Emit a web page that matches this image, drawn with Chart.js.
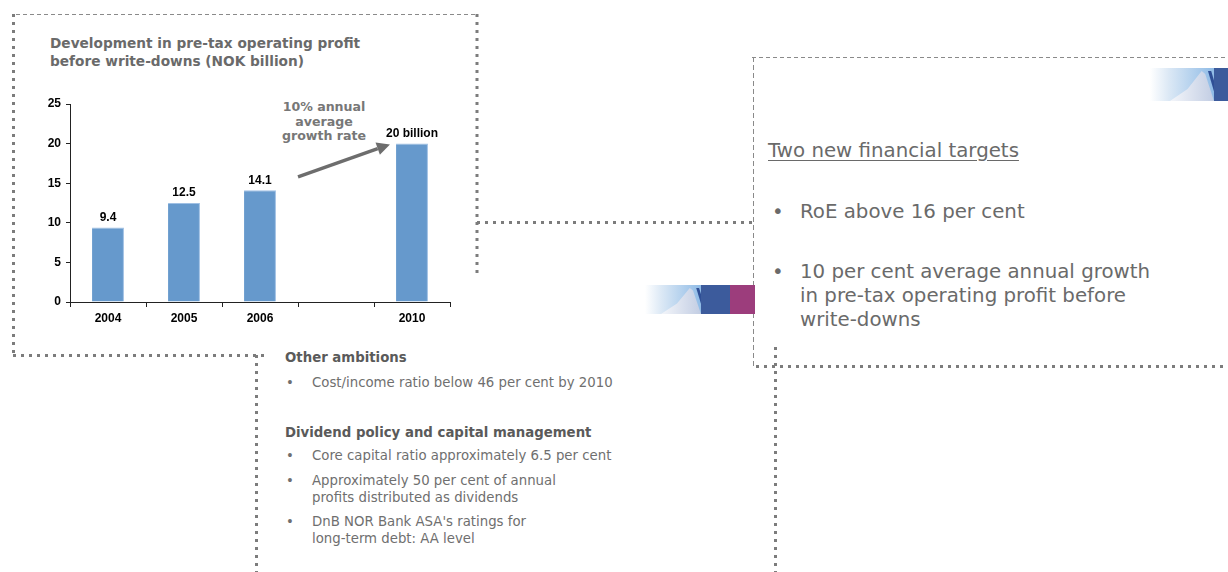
<!DOCTYPE html>
<html>
<head>
<meta charset="utf-8">
<script src="https://cdn.jsdelivr.net/npm/chart.js@4.4.1/dist/chart.umd.min.js"></script>
<style>
  html, body { margin: 0; padding: 0; background: #fff; }
  body { width: 1228px; height: 572px; position: relative; overflow: hidden; font-family: "DejaVu Sans", Verdana, sans-serif; }
  .abs { position: absolute; white-space: nowrap; }
  #frame { position: absolute; left: 0; top: 0; }
  #chartBox { position: absolute; left: 20px; top: 90px; width: 440px; height: 250px; }
  .title { left: 50px; top: 34px; font-size: 13.7px; font-weight: bold; color: #6a6a6a; line-height: 18px; }
  .note { font-size: 12.6px; font-weight: bold; color: #777; text-align: center; line-height: 14.5px; }
  .mid { font-size: 13.3px; color: #6f6f6f; }
  .mid b { color: #5a5a5a; }
  .big { font-size: 19.8px; color: #6a6a6a; }
  .logo { position: absolute; overflow: hidden; }
  .sky { position: absolute; top: 0; bottom: 0; background: linear-gradient(90deg, #fff 0%, #dbe8f5 30%, #8fbbe6 100%); }
  .peak { position: absolute; background: linear-gradient(90deg, #f4f6fa, #c2cde3); clip-path: polygon(0 100%, 40% 60%, 72% 0, 80% 10%, 100% 100%); }
  .ridge { position: absolute; background: #2f4f96; clip-path: polygon(70% 0, 78% 0, 100% 100%, 92% 100%); }
</style>
</head>
<body>

<svg id="frame" width="1228" height="572">
  <g fill="none" stroke="#8a8a8a">
    <!-- thin dashed edges -->
    <line x1="16" y1="14.5" x2="477" y2="14.5" stroke-width="1" stroke-dasharray="4 3"/>
    <line x1="752" y1="57.5" x2="1228" y2="57.5" stroke-width="1" stroke-dasharray="4 3"/>
    <line x1="753.5" y1="57" x2="753.5" y2="367" stroke-width="1" stroke-dasharray="5 3"/>
    <!-- heavy dotted edges -->
    <g stroke-width="3" stroke-dasharray="3 5" stroke="#7c7c7c">
      <line x1="13.5" y1="14" x2="13.5" y2="356"/>
      <line x1="477" y1="14" x2="477" y2="274"/>
      <line x1="477" y1="222.5" x2="752" y2="222.5"/>
      <line x1="13" y1="355.5" x2="268" y2="355.5"/>
      <line x1="256.5" y1="355" x2="256.5" y2="572"/>
      <line x1="756" y1="366.5" x2="1228" y2="366.5"/>
      <line x1="775.5" y1="347" x2="775.5" y2="572"/>
    </g>
  </g>
</svg>

<!-- bank logo strips -->
<div class="logo" style="left:645px; top:285px; width:110px; height:29px;">
  <div class="sky" style="left:0; width:56px;"></div>
  <div class="peak" style="left:16px; top:3px; width:40px; height:26px;"></div>
  <div class="ridge" style="left:26px; top:3px; width:36px; height:26px;"></div>
  <div style="position:absolute; left:56px; top:0; width:29px; height:29px; background:#3c5b9c;"></div>
  <div style="position:absolute; left:85px; top:0; width:25px; height:29px; background:#9c3d7c;"></div>
</div>
<div class="logo" style="left:1150px; top:68px; width:78px; height:33px;">
  <div class="sky" style="left:0; width:64px;"></div>
  <div class="peak" style="left:20px; top:3px; width:44px; height:30px;"></div>
  <div class="ridge" style="left:30px; top:3px; width:40px; height:30px;"></div>
  <div style="position:absolute; left:64px; top:0; width:14px; height:33px; background:#3c5b9c;"></div>
</div>

<div class="abs title">Development in pre-tax operating profit<br>before write-downs (NOK billion)</div>
<div class="abs note" style="left:266px; top:100px; width:116px;">10% annual<br>average<br>growth rate</div>

<div id="chartBox"><canvas id="c"></canvas></div>

<!-- middle column -->
<div class="abs mid" style="left:285px; top:350px;"><b>Other ambitions</b></div>
<div class="abs mid" style="left:286px; top:375px;">•</div>
<div class="abs mid" style="left:312px; top:375px;">Cost/income ratio below 46 per cent by 2010</div>
<div class="abs mid" style="left:285px; top:425px;"><b>Dividend policy and capital management</b></div>
<div class="abs mid" style="left:286px; top:448px;">•</div>
<div class="abs mid" style="left:312px; top:448px;">Core capital ratio approximately 6.5 per cent</div>
<div class="abs mid" style="left:286px; top:473px;">•</div>
<div class="abs mid" style="left:312px; top:473px; line-height:16.5px;">Approximately 50 per cent of annual<br>profits distributed as dividends</div>
<div class="abs mid" style="left:286px; top:514px;">•</div>
<div class="abs mid" style="left:312px; top:514px; line-height:16.5px;">DnB NOR Bank ASA's ratings for<br>long-term debt: AA level</div>

<!-- right panel -->
<div class="abs big" style="left:768px; top:139px; text-decoration:underline; text-underline-offset:3px;">Two new financial targets</div>
<div class="abs big" style="left:772px; top:200px;">•</div>
<div class="abs big" style="left:800px; top:200px;">RoE above 16 per cent</div>
<div class="abs big" style="left:772px; top:260px;">•</div>
<div class="abs big" style="left:800px; top:260px; line-height:24px;">10 per cent average annual growth<br>in pre-tax operating profit before<br>write-downs</div>

<script>
// Pre-tax operating profit before write-downs, NOK billion
const years = ['2004', '2005', '2006', '', '2010'];
const profit = [9.4, 12.5, 14.1, null, 20];
const valueLabels = ['9.4', '12.5', '14.1', '', '20 billion'];
const yTicks = [0, 5, 10, 15, 20, 25];
// growth arrow, in (category index, value) units
const arrowFrom = [2.5, 15.8];
const arrowTo = [3.71, 19.9];

const labelsAndArrow = {
  id: 'labelsAndArrow',
  afterDatasetsDraw(chart) {
    const ctx = chart.ctx;
    const meta = chart.getDatasetMeta(0);
    const x = chart.scales.x, y = chart.scales.y;
    ctx.save();
    ctx.fillStyle = '#000';
    ctx.font = 'bold 12px "Liberation Sans", Arial, sans-serif';
    ctx.textAlign = 'center';
    ctx.textBaseline = 'bottom';
    meta.data.forEach((bar, i) => {
      if (profit[i] == null) return;
      ctx.fillText(valueLabels[i], bar.x, bar.y - 4);
    });
    // arrow
    const x0 = x.getPixelForValue(arrowFrom[0]), y0 = y.getPixelForValue(arrowFrom[1]);
    const x1 = x.getPixelForValue(arrowTo[0]), y1 = y.getPixelForValue(arrowTo[1]);
    const ang = Math.atan2(y1 - y0, x1 - x0);
    const head = 13, hw = 6.5;
    const bx = x1 - head * Math.cos(ang), by = y1 - head * Math.sin(ang);
    ctx.strokeStyle = '#6d6d6d';
    ctx.fillStyle = '#6d6d6d';
    ctx.lineWidth = 3.5;
    ctx.beginPath();
    ctx.moveTo(x0, y0);
    ctx.lineTo(bx, by);
    ctx.stroke();
    ctx.beginPath();
    ctx.moveTo(x1, y1);
    ctx.lineTo(bx + hw * Math.sin(ang), by - hw * Math.cos(ang));
    ctx.lineTo(bx - hw * Math.sin(ang), by + hw * Math.cos(ang));
    ctx.closePath();
    ctx.fill();
    ctx.restore();
  }
};

new Chart(document.getElementById('c'), {
  type: 'bar',
  data: {
    labels: years,
    datasets: [{
      data: profit,
      backgroundColor: '#6699cc',
      borderColor: '#9fc0e4',
      borderWidth: { right: 1, top: 1, left: 0, bottom: 0 },
      categoryPercentage: 1,
      barPercentage: 0.42
    }]
  },
  options: {
    responsive: true,
    maintainAspectRatio: false,
    animation: false,
    layout: { padding: { top: 14, right: 10, left: 0, bottom: 0 } },
    plugins: { legend: { display: false }, tooltip: { enabled: false } },
    scales: {
      x: {
        offset: true,
        grid: { offset: true, drawOnChartArea: false, drawTicks: true, tickLength: 5, color: '#222', lineWidth: 1 },
        border: { color: '#222', width: 1 },
        ticks: { color: '#000', font: { family: '"Liberation Sans", Arial, sans-serif', size: 12, weight: 'bold' }, padding: 4 },
        afterFit(s) { s.height = 38; }
      },
      y: {
        min: 0, max: 25,
        afterBuildTicks(s) { s.ticks = yTicks.map(v => ({ value: v })); },
        grid: { drawOnChartArea: false, drawTicks: true, tickLength: 4, color: '#222' },
        border: { color: '#222', width: 1 },
        ticks: { color: '#000', font: { family: '"Liberation Sans", Arial, sans-serif', size: 12, weight: 'bold' }, padding: 5 },
        afterFit(s) { s.width = 50; }
      }
    }
  },
  plugins: [labelsAndArrow]
});
</script>
</body>
</html>
